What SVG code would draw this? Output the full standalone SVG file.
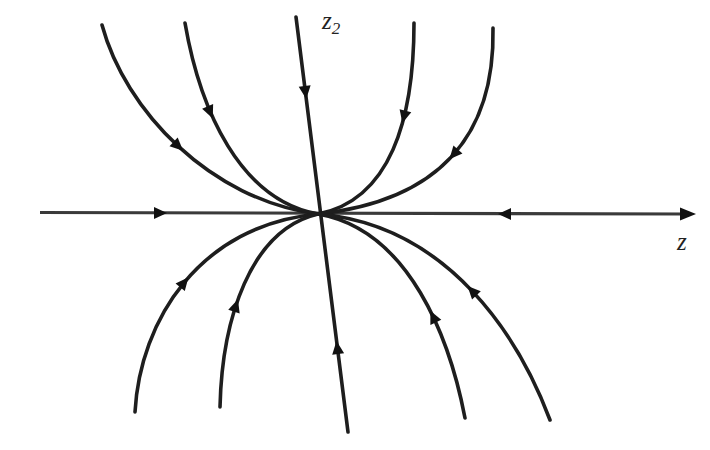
<svg xmlns="http://www.w3.org/2000/svg" width="710" height="450" viewBox="0 0 710 450">
<defs>
<style>
.traj{fill:none;stroke:#1e1e1e;stroke-width:3.6;stroke-linecap:round}
.axis{fill:none;stroke:#3a3a3a;stroke-width:3.2}
.ah{fill:#111}
.lbl{font-family:"Liberation Serif",serif;font-style:italic;fill:#222}
</style>
<polygon id="head" points="7,0 -6,-6 -6,6"/>
</defs>
<rect width="710" height="450" fill="#fff"/>
<g id="connectors">
<path id="z-axis" class="axis" d="M40,212.5 L686,214"/>
<polygon class="ah" points="696,214 680,207.5 680,220.5"/>
<path id="z2-axis" class="traj" d="M296,17 L348,432"/>
<path id="c1" class="traj" d="M102,25 C125,110 210,200 318,214"/>
<path id="c2" class="traj" d="M185,23 C200,110 240,200 318,214"/>
<path id="c3" class="traj" d="M414,23 C414,120 390,200 318,214"/>
<path id="c4" class="traj" d="M493,28 C495,130 445,200 318,214"/>
<path id="c5" class="traj" d="M135,412 C140,320 200,225 318,214"/>
<path id="c6" class="traj" d="M220,407 C222,320 250,230 318,214"/>
<path id="c7" class="traj" d="M465,418 C450,340 410,230 318,214"/>
<path id="c8" class="traj" d="M550,420 C520,340 450,225 318,214"/>
<g class="ah">
<use href="#head" transform="translate(160,213) rotate(0)"/>
<use href="#head" transform="translate(505,214) rotate(180)"/>
<use href="#head" transform="translate(305.4,92) rotate(82.9)"/>
<use href="#head" transform="translate(337.4,348) rotate(-97.1)"/>
<use href="#head" transform="translate(178,146) rotate(42.8)"/>
<use href="#head" transform="translate(210,112) rotate(66.8)"/>
<use href="#head" transform="translate(404,116.5) rotate(104)"/>
<use href="#head" transform="translate(454,154) rotate(131.3)"/>
<use href="#head" transform="translate(184,282.6) rotate(-50.3)"/>
<use href="#head" transform="translate(235.8,306) rotate(-72)"/>
<use href="#head" transform="translate(433.3,317) rotate(-115.2)"/>
<use href="#head" transform="translate(472.3,291) rotate(-133.3)"/>
</g>
</g>
<g id="label-z2"><text class="lbl" x="322" y="29" font-size="25">z<tspan font-size="17" dy="5">2</tspan></text></g>
<g id="label-z"><text class="lbl" x="677" y="250" font-size="25">z</text></g>
</svg>
